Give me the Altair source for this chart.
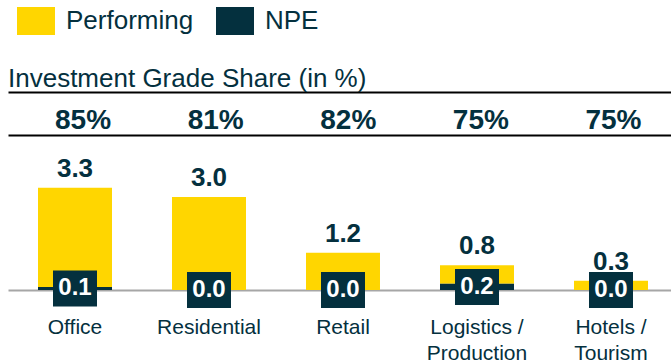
import altair as alt
import pandas as pd

# Volumes by property type (EUR bn) and investment-grade share per type
categories = ["Office", "Residential", "Retail", "Logistics / Production", "Hotels / Tourism"]
total_volume = [3.3, 3.0, 1.2, 0.8, 0.3]
npe_volume = [0.1, 0.0, 0.0, 0.2, 0.0]
ig_share_pct = [85, 81, 82, 75, 75]
segments = ["Performing", "NPE"]

YELLOW = "#FFD600"
DARK = "#04303E"
GREY = "#A6A6A6"
FONT = "Liberation Sans"

PLOT_W = 663
Y_MAX = 5

frame = pd.DataFrame({
    "category": categories,
    "total": total_volume,
    "npe": npe_volume,
    "share": ig_share_pct,
})

x_scale = alt.Scale(paddingInner=0.4478, paddingOuter=0.1978, align=0.566)

category_axis = alt.Axis(orient="bottom", domainColor=GREY, domainWidth=2, ticks=False,
                         tickSize=0, labelAngle=0, labelFont=FONT, labelFontSize=21,
                         labelColor=DARK, labelPadding=26, labelLineHeight=26,
                         labelOverlap=False, title=None,
                         labelExpr="split(replace(datum.label, ' / ', ' /|'), '|')")


def x_field(axis):
    return alt.X("category:N", sort=categories, scale=x_scale, axis=axis, title=None)


# Header row: investment-grade share under a black rule
header = alt.Chart(frame).transform_calculate(
    label="format(datum.share, 'd') + '%'"
).mark_text(font=FONT, fontSize=28, fontWeight="bold", color=DARK, dy=8).encode(
    x=x_field(alt.Axis(orient="top", labels=False, ticks=False, domainColor="#000000",
                       domainWidth=2, title=None)),
    text="label:N",
).properties(
    width=PLOT_W,
    height=41,
    title=alt.TitleParams("Investment Grade Share (in %)", anchor="start", font=FONT,
                          fontSize=26, fontWeight="normal", color=DARK, offset=0),
)

# Stacked volumes: NPE at the base, performing on top
y_scale = alt.Scale(domain=[0, Y_MAX])
# the grid line at the top of the value range closes the header row
value_axis = alt.Axis(values=[Y_MAX], labels=False, ticks=False, domain=False,
                      grid=True, gridColor="#000000", gridWidth=2, gridOpacity=1,
                      title=None)

base = alt.Chart(frame).transform_calculate(
    Performing="datum.total - datum.npe",
    NPE="datum.npe",
    mid="datum.npe / 2",
)

bars = base.transform_fold(segments, as_=["segment", "value"]).transform_calculate(
    seg_order="datum.segment === 'NPE' ? 0 : 1"
).mark_bar().encode(
    x=x_field(category_axis),
    y=alt.Y("value:Q", stack="zero", scale=y_scale, axis=value_axis),
    color=alt.Color("segment:N", scale=alt.Scale(domain=segments, range=[YELLOW, DARK]),
                    legend=alt.Legend(orient="none", direction="horizontal", title=None,
                                      legendX=14, legendY=-85,
                                      symbolType="M-1.357,-1H1.357V1H-1.357Z",
                                      symbolSize=784, symbolStrokeWidth=0,
                                      symbolOpacity=1,
                                      labelFont=FONT, labelFontSize=26, labelColor=DARK,
                                      labelOffset=16, columnPadding=22)),
    order=alt.Order("seg_order:Q", sort="ascending"),
)

totals = base.mark_text(font=FONT, fontSize=26, fontWeight="bold", color=DARK,
                        baseline="alphabetic", dy=-11).encode(
    x=x_field(category_axis),
    y=alt.Y("total:Q", scale=y_scale, axis=value_axis),
    text=alt.Text("total:Q", format=".1f"),
)

npe_box = base.mark_tick(size=44, thickness=36, color=DARK, opacity=1).encode(
    x=x_field(category_axis),
    y=alt.Y("mid:Q", scale=y_scale, axis=value_axis),
)

npe_text = base.mark_text(font=FONT, fontSize=24, fontWeight="bold", color="#FFFFFF",
                          baseline="middle").encode(
    x=x_field(category_axis),
    y=alt.Y("mid:Q", scale=y_scale, axis=value_axis),
    text=alt.Text("npe:Q", format=".1f"),
)

volumes = alt.layer(bars, totals, npe_box, npe_text).properties(width=PLOT_W, height=155)

chart = alt.vconcat(header, volumes, spacing=0).properties(
    padding={"left": 8, "top": 7, "right": 0, "bottom": 0},
).configure_view(stroke=None)

chart.save("out.html", embed_options={"renderer": "svg", "actions": False})
